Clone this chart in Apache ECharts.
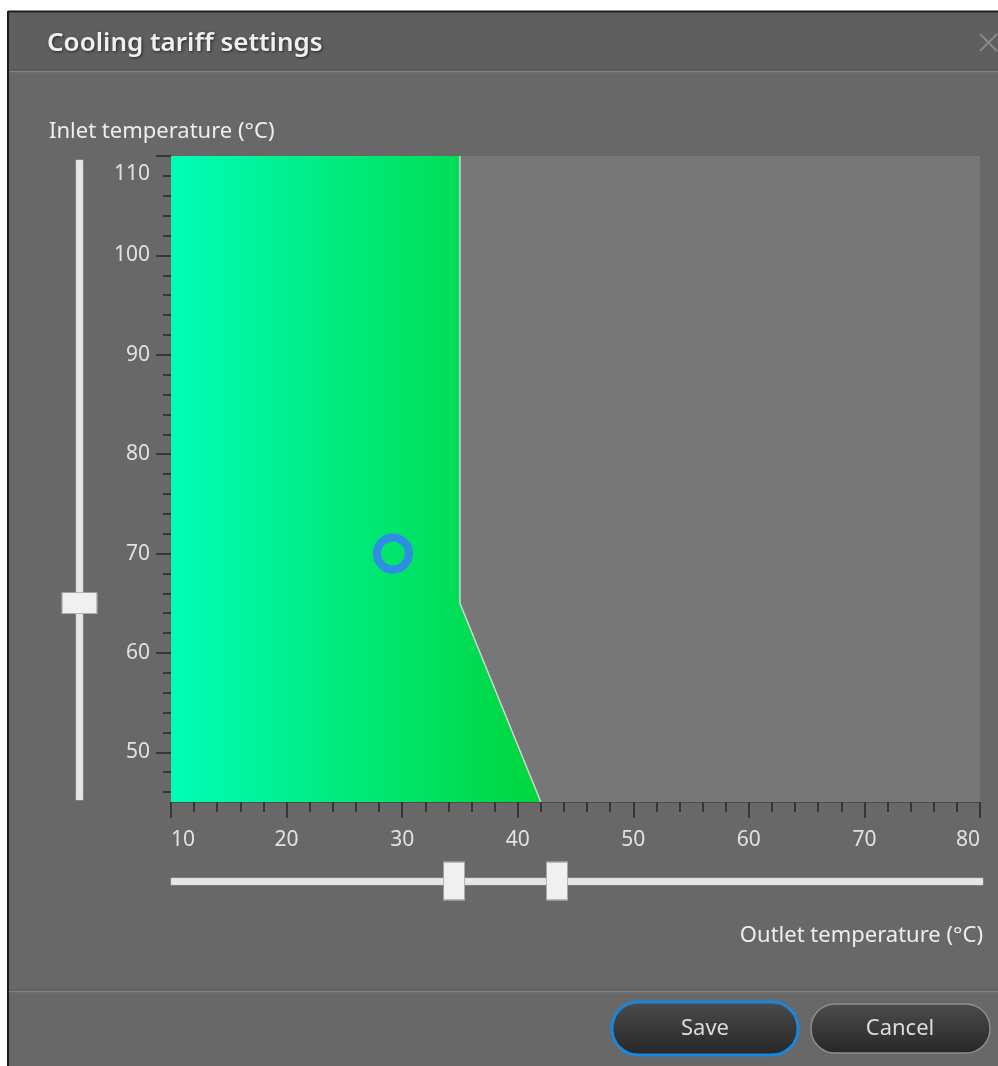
<html lang="en">
<head>
    <meta charset="UTF-8">
    <title>Cooling tariff settings</title>
    <style>
        body { margin: 0; background: #ffffff; }
        #echart { width: 998px; height: 1066px; }
    </style>
</head>
<body>
<div id="echart"></div>
<script src="https://cdn.jsdelivr.net/npm/echarts@6/dist/echarts.min.js"></script>
<script>
    // allowed zone (outlet x, inlet y), closed polygon
    const zoneOutlet = [10, 35, 35, 42, 10]
    const zoneInlet = [110, 110, 65, 45, 45]
    // limit line on the right side of the zone
    const limitOutlet = [35, 35, 42]
    const limitInlet = [110, 65, 45]
    // current operating point
    const pointOutlet = [29.2]
    const pointInlet = [70]
    // slider thumbs
    const inletThumb = [65]
    const outletThumbs = [34.5, 43.4]
    // inlet axis ticks
    const inletLabels = [50, 60, 70, 80, 90, 100, 110]
    const inletMinor = [46, 48, 50, 52, 54, 56, 58, 60, 62, 64, 66, 68, 70, 72, 74, 76, 78,
        80, 82, 84, 86, 88, 90, 92, 94, 96, 98, 100, 102, 104, 106, 108, 110]

    const font = 'Noto Sans'
    const labelColor = '#e2e2e2'
    const tickColor = '#363636'

    const echart = echarts.init(document.getElementById('echart'))

    const zoneData = zoneOutlet.map((x, i) => [x, zoneInlet[i]])

    echart.setOption({
        backgroundColor: '#ffffff',
        animation: false,
        textStyle: { fontFamily: font },
        grid: [
            { left: 171, right: 18, top: 156, bottom: 264, show: true, backgroundColor: '#777777', borderWidth: 0 },
            { left: 171, right: 18, top: 862, height: 38 },
            { left: 62, width: 35, top: 156, bottom: 264 }
        ],
        xAxis: [{
            gridIndex: 0, type: 'value', min: 10, max: 80, interval: 10,
            axisLine: { lineStyle: { color: '#4c4c4c', width: 1 } },
            axisTick: { length: 16, lineStyle: { color: tickColor, width: 2 } },
            minorTick: { show: true, splitNumber: 5, length: 10, lineStyle: { color: tickColor, width: 2 } },
            axisLabel: { color: labelColor, fontSize: 21, margin: 28, alignMinLabel: 'left', alignMaxLabel: 'right' },
            splitLine: { show: false }
        }, {
            gridIndex: 1, type: 'value', min: 10, max: 80, show: false
        }, {
            gridIndex: 2, type: 'value', min: 0, max: 1, show: false
        }],
        yAxis: [{
            gridIndex: 0, type: 'value', min: 45, max: 110,
            axisLine: { show: true, lineStyle: { color: '#4c4c4c', width: 1 } },
            axisTick: { customValues: inletMinor, length: 8, lineStyle: { color: tickColor, width: 2 } },
            axisLabel: {
                customValues: inletLabels, color: labelColor, fontSize: 21, margin: 21,
                formatter: v => v === 110 ? '{top|110}' : String(v),
                rich: { top: { color: labelColor, fontSize: 21, fontFamily: font, padding: [36, 0, 0, 0] } }
            },
            splitLine: { show: false }
        }, {
            gridIndex: 0, type: 'value', min: 45, max: 110, position: 'left',
            axisLine: { show: false },
            axisTick: { customValues: inletLabels, length: 15, lineStyle: { color: tickColor, width: 2 } },
            axisLabel: { show: false },
            splitLine: { show: false }
        }, {
            gridIndex: 1, type: 'value', min: 0, max: 1, show: false
        }, {
            gridIndex: 2, type: 'value', min: 45, max: 110, show: false
        }],
        graphic: [
            // dialog frame
            { type: 'rect', z: -10, shape: { x: 8, y: 11, width: 990, height: 1055 }, style: { fill: '#686868' } },
            { type: 'rect', z: -9, shape: { x: 9, y: 13, width: 989, height: 57 }, style: { fill: '#5f5f5f' } },
            { type: 'line', z: -8, shape: { x1: 9, y1: 70, x2: 998, y2: 70 }, style: { stroke: '#505050', lineWidth: 1 } },
            { type: 'line', z: -8, shape: { x1: 9, y1: 71.5, x2: 998, y2: 71.5 }, style: { stroke: '#7e7e7e', lineWidth: 1.5 } },
            { type: 'line', z: -8, shape: { x1: 9, y1: 990, x2: 998, y2: 990 }, style: { stroke: '#585858', lineWidth: 1 } },
            { type: 'line', z: -8, shape: { x1: 9, y1: 991.5, x2: 998, y2: 991.5 }, style: { stroke: '#7e7e7e', lineWidth: 1.5 } },
            { type: 'line', z: -8, shape: { x1: 8, y1: 11, x2: 8, y2: 1066 }, style: { stroke: '#1c1c1c', lineWidth: 2 } },
            { type: 'line', z: -8, shape: { x1: 8, y1: 11.5, x2: 998, y2: 11.5 }, style: { stroke: '#1c1c1c', lineWidth: 2 } },
            // close cross
            { type: 'line', z: -8, shape: { x1: 980, y1: 34, x2: 997, y2: 51 }, style: { stroke: '#8a8a8a', lineWidth: 2 } },
            { type: 'line', z: -8, shape: { x1: 997, y1: 34, x2: 980, y2: 51 }, style: { stroke: '#8a8a8a', lineWidth: 2 } },
            // texts
            {
                type: 'text', x: 47, y: 44, style: {
                    text: 'Cooling tariff settings', fill: '#f0f0f0', font: '600 26px "Noto Sans"',
                    verticalAlign: 'middle', textShadowColor: 'rgba(0,0,0,0.6)', textShadowBlur: 3, textShadowOffsetX: 1, textShadowOffsetY: 1
                }
            },
            {
                type: 'text', x: 49, y: 132, style: {
                    text: 'Inlet temperature (°C)', fill: '#eeeeee', font: '22px "Noto Sans"', verticalAlign: 'middle'
                }
            },
            {
                type: 'text', x: 983, y: 936, style: {
                    text: 'Outlet temperature (°C)', fill: '#eeeeee', font: '22px "Noto Sans"', verticalAlign: 'middle', align: 'right'
                }
            },
            // slider tracks
            { type: 'rect', z: 1, shape: { x: 171, y: 878, width: 812, height: 7 }, style: { fill: '#e6e6e6', stroke: '#c8c8c8', lineWidth: 0.5 } },
            { type: 'rect', z: 1, shape: { x: 76, y: 160, width: 7, height: 640 }, style: { fill: '#e6e6e6', stroke: '#c8c8c8', lineWidth: 0.5 } },
            // buttons
            {
                type: 'rect', shape: { x: 612, y: 1002, width: 186, height: 53, r: 26 },
                style: {
                    fill: new echarts.graphic.LinearGradient(0, 0, 0, 1, [
                        { offset: 0, color: '#4c4c4c' }, { offset: 1, color: '#262626' }
                    ]),
                    stroke: '#1a86dc', lineWidth: 3
                }
            },
            {
                type: 'text', x: 705, y: 1029, style: {
                    text: 'Save', fill: '#dcdcdc', font: '22px "Noto Sans"', align: 'center', verticalAlign: 'middle'
                }
            },
            {
                type: 'rect', shape: { x: 811, y: 1004, width: 179, height: 49, r: 24 },
                style: {
                    fill: new echarts.graphic.LinearGradient(0, 0, 0, 1, [
                        { offset: 0, color: '#4c4c4c' }, { offset: 1, color: '#272727' }
                    ]),
                    stroke: '#8e8e8e', lineWidth: 1.5
                }
            },
            {
                type: 'text', x: 900, y: 1029, style: {
                    text: 'Cancel', fill: '#dcdcdc', font: '22px "Noto Sans"', align: 'center', verticalAlign: 'middle'
                }
            }
        ],
        series: [{
            type: 'custom',
            xAxisIndex: 0, yAxisIndex: 0,
            data: zoneData,
            renderItem: (params, api) => {
                if (params.dataIndex !== 0) return
                const pts = zoneData.map(p => api.coord(p))
                return {
                    type: 'polygon',
                    shape: { points: pts },
                    style: {
                        fill: new echarts.graphic.LinearGradient(0, 0, 1, 0, [
                            { offset: 0, color: '#00fdb8' },
                            { offset: 1, color: '#00d53a' }
                        ])
                    }
                }
            }
        }, {
            type: 'line',
            xAxisIndex: 0, yAxisIndex: 0,
            data: limitOutlet.map((x, i) => [x, limitInlet[i]]),
            symbol: 'none',
            lineStyle: { color: '#d4d4d4', width: 1.5 }
        }, {
            type: 'scatter',
            xAxisIndex: 0, yAxisIndex: 0,
            data: pointOutlet.map((x, i) => [x, pointInlet[i]]),
            symbol: 'circle', symbolSize: 32,
            itemStyle: { color: 'rgba(0,0,0,0)', borderColor: '#2f8de6', borderWidth: 8, opacity: 1 }
        }, {
            type: 'scatter',
            xAxisIndex: 1, yAxisIndex: 2,
            data: outletThumbs.map(x => [x, 0.5]),
            symbol: 'rect', symbolSize: [21, 38],
            itemStyle: { color: '#f0f0f0', borderColor: '#a5a5a5', borderWidth: 1, opacity: 1 }
        }, {
            type: 'scatter',
            xAxisIndex: 2, yAxisIndex: 3,
            data: inletThumb.map(y => [0.5, y]),
            symbol: 'rect', symbolSize: [35, 21],
            itemStyle: { color: '#f0f0f0', borderColor: '#a5a5a5', borderWidth: 1, opacity: 1 }
        }]
    })
</script>
</body>
</html>
